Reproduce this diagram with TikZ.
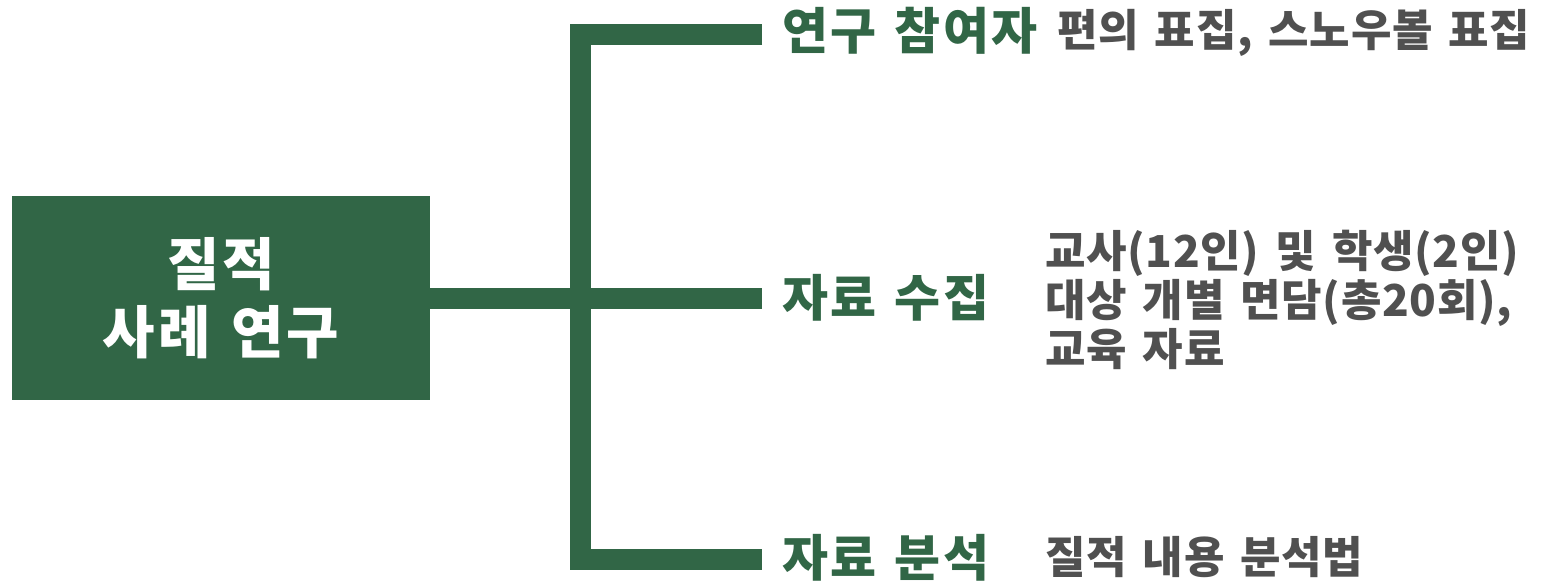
\documentclass[tikz,border=0pt]{standalone}
\usepackage{fontspec}
\setmainfont{Noto Sans CJK KR}[WordSpace=1.5,LetterSpace=1.5]
\newfontfamily\krwide{Noto Sans CJK KR}[WordSpace=1.3,LetterSpace=5]
\usepackage{tikz}
\usetikzlibrary{calc,positioning}
\definecolor{leafgreen}{RGB}{49,102,70}
\definecolor{notegray}{RGB}{80,80,80}
\tikzset{
    root box/.style={
        fill=leafgreen, text=white, align=center,
        minimum width=418pt, minimum height=204pt,
        font=\krwide\fontsize{57}{68}\selectfont\bfseries
    },
    topic label/.style={
        anchor=west, inner xsep=20pt, inner ysep=0pt,
        text=leafgreen,
        font=\krwide\fontsize{50}{56}\selectfont\bfseries
    },
    note text/.style={
        anchor=west, align=left, inner sep=0pt,
        text=notegray,
        font=\fontsize{44}{49}\selectfont\bfseries
    },
    branch/.style={leafgreen, line width=21pt},
}

\begin{document}
\begin{tikzpicture}[x=1pt,y=-1pt]
    \useasboundingbox (0,0) rectangle (1541,581);
    % root and branch points
    \node[root box] (case) at (221,298) {질적\\사례 연구};
    \coordinate (hub) at (580.5,298);
    \node[topic label] (part) at (762,31) {연구 참여자};
    \node[topic label] (collect) at (762,298) {자료 수집};
    \node[topic label] (analyze) at (762,558) {자료 분석};

    \draw[branch] ([yshift=-3.5pt]part.west) -| (hub) |- ([yshift=-1.5pt]analyze.west);
    \draw[branch] (case.east) -- (hub) -- (collect.west);

    % notes
    \node[note text] (partnote) at (1057,33) {편의 표집, 스노우볼 표집};
    \node[note text] (collectnote) at (1045,300) {교사(12인) 및 학생(2인)\\대상 개별 면담(총20회),\\교육 자료};
    \node[note text] (analyzenote) at (1045,557) {질적 내용 분석법};
\end{tikzpicture}
\end{document}
